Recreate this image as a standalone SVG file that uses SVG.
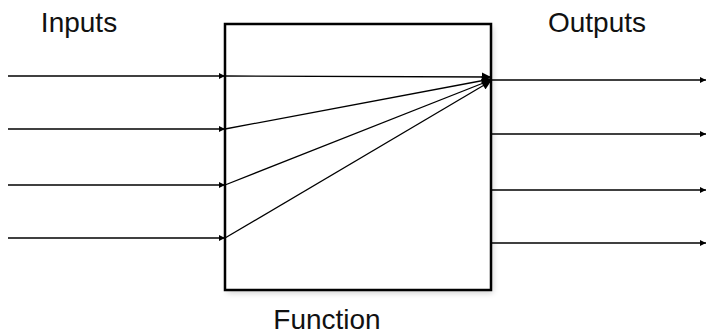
<svg xmlns="http://www.w3.org/2000/svg" width="707" height="335" viewBox="0 0 707 335">
<style>
.lbl{font-family:"Liberation Sans",Arial,sans-serif;font-size:28px;fill:#111}
.ln{stroke:#000;stroke-width:1.3;fill:none}
</style>
<defs>
<marker id="ah" viewBox="0 0 10 10" refX="10" refY="5" markerWidth="7" markerHeight="6" markerUnits="userSpaceOnUse" orient="auto"><path d="M0,0 L10,5 L0,10 Z" fill="#000"/></marker>
<marker id="ahb" viewBox="0 0 10 10" refX="10" refY="5" markerWidth="10" markerHeight="9" markerUnits="userSpaceOnUse" orient="auto"><path d="M0,0 L10,5 L0,10 Z" fill="#000"/></marker>
<filter id="sh" x="-10%" y="-10%" width="120%" height="120%"><feGaussianBlur stdDeviation="3"/></filter>
</defs>
<g id="function">
<rect x="227" y="27" width="266" height="266" fill="#000" opacity="0.18" filter="url(#sh)"/>
<rect x="225" y="24" width="266" height="266" fill="#fff" stroke="#000" stroke-width="2.5"/>
<text class="lbl" x="327" y="329" text-anchor="middle">Function</text>
</g>
<g id="inputs-label"><text class="lbl" x="79" y="32" text-anchor="middle">Inputs</text></g>
<g id="outputs-label"><text class="lbl" x="597" y="32" text-anchor="middle">Outputs</text></g>
<g id="connectors">
<line class="ln" x1="8" y1="76" x2="225" y2="76" marker-end="url(#ah)"/>
<line class="ln" x1="8" y1="129" x2="225" y2="129" marker-end="url(#ah)"/>
<line class="ln" x1="8" y1="185" x2="225" y2="185" marker-end="url(#ah)"/>
<line class="ln" x1="8" y1="238" x2="225" y2="238" marker-end="url(#ah)"/>
<line class="ln" x1="225" y1="76" x2="491" y2="77" marker-end="url(#ahb)"/>
<line class="ln" x1="225" y1="129" x2="491" y2="79" marker-end="url(#ahb)"/>
<line class="ln" x1="225" y1="185" x2="491" y2="80" marker-end="url(#ahb)"/>
<line class="ln" x1="225" y1="238" x2="491" y2="81" marker-end="url(#ahb)"/>
<line class="ln" x1="492" y1="80" x2="706" y2="80" marker-end="url(#ah)"/>
<line class="ln" x1="492" y1="134" x2="706" y2="134" marker-end="url(#ah)"/>
<line class="ln" x1="492" y1="190" x2="706" y2="190" marker-end="url(#ah)"/>
<line class="ln" x1="492" y1="243" x2="706" y2="243" marker-end="url(#ah)"/>
</g>
</svg>
